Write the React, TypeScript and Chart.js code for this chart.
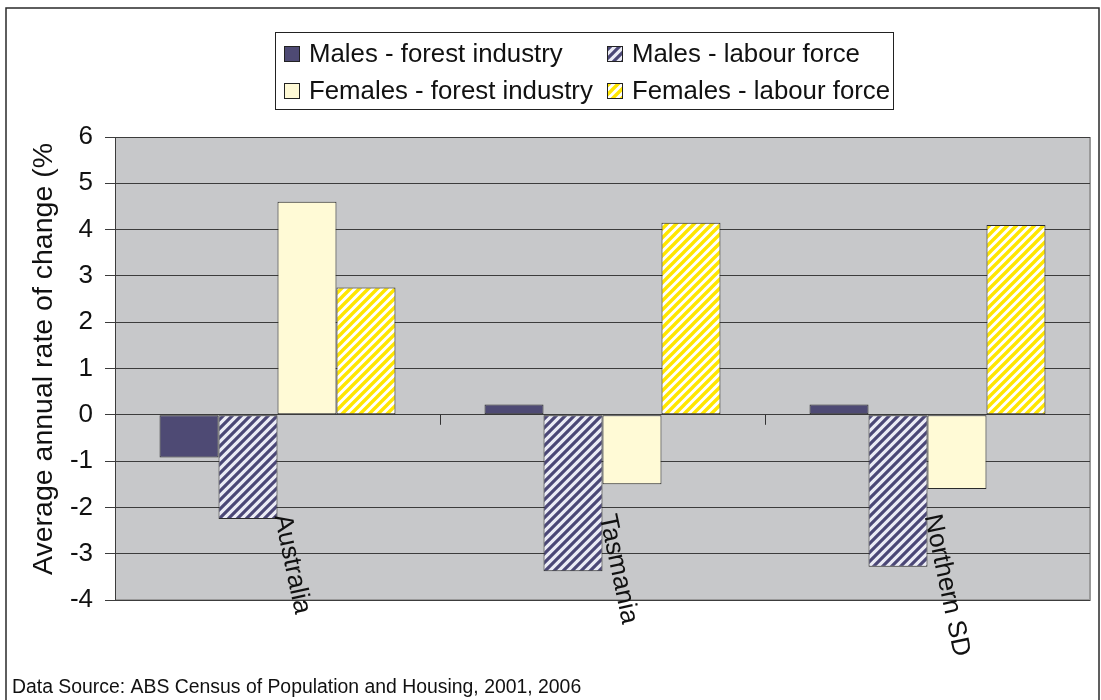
import React, { useEffect, useRef } from "react";
import { Chart, registerables } from "chart.js";

Chart.register(...registerables);

const categories = ["Australia", "Tasmania", "Northern SD"];
const malesForest = [-0.92, 0.22, 0.22];
const malesLabour = [-2.25, -3.38, -3.28];
const femalesForest = [4.6, -1.5, -1.6];
const femalesLabour = [2.75, 4.15, 4.1];
const seriesNames = [
  "Males - forest industry",
  "Males - labour force",
  "Females - forest industry",
  "Females - labour force",
];
const yTicks = { min: -4, max: 6, step: 1 };
const yTitle = "Average annual rate of change (%)";
const sourceText = "Data Source: ABS Census of Population and Housing, 2001, 2006";

const FONT = "'Liberation Sans', Arial, sans-serif";

function makeStripe(bg: string, fg: string, size: number, lw: number) {
  const c = document.createElement("canvas");
  c.width = size;
  c.height = size;
  const g = c.getContext("2d")!;
  g.fillStyle = bg;
  g.fillRect(0, 0, size, size);
  g.strokeStyle = fg;
  g.lineWidth = lw;
  g.lineCap = "square";
  g.beginPath();
  g.moveTo(-size, 2 * size);
  g.lineTo(2 * size, -size);
  g.moveTo(-size, size);
  g.lineTo(size, -size);
  g.moveTo(0, 2 * size);
  g.lineTo(2 * size, 0);
  g.stroke();
  return g.createPattern(c, "repeat")!;
}

export default function App() {
  const ref = useRef<HTMLCanvasElement>(null);
  useEffect(() => {
    const canvas = ref.current!;
    const malePat = makeStripe("#ececf6", "#4b4776", 9, 3.2);
    const femPat = makeStripe("#ffffff", "#ffe600", 9, 3.4);
    const fills = ["#4e4a74", malePat, "#fffad6", femPat];

    const decor = {
      id: "decor",
      beforeDraw(chart: any) {
        const { ctx, chartArea: a } = chart;
        ctx.save();
        ctx.fillStyle = "#ffffff";
        ctx.fillRect(0, 0, chart.width, chart.height);
        ctx.fillStyle = "#c7c8ca";
        ctx.fillRect(a.left, a.top, a.right - a.left, a.bottom - a.top);
        ctx.strokeStyle = "#9a9a9a";
        ctx.lineWidth = 2;
        ctx.beginPath();
        ctx.moveTo(a.right, a.top);
        ctx.lineTo(a.right, a.bottom);
        ctx.lineTo(a.left, a.bottom);
        ctx.stroke();
        ctx.restore();
      },
      afterDraw(chart: any) {
        const { ctx, chartArea: a, scales } = chart;
        const x = scales.x;
        const y = scales.y;
        const zy = y.getPixelForValue(0);
        ctx.save();
        // zero line tick marks at category boundaries
        ctx.strokeStyle = "#333";
        ctx.lineWidth = 1;
        const n = categories.length;
        const w = (a.right - a.left) / n;
        for (let i = 1; i < n; i++) {
          const bx = Math.round(a.left + w * i) + 0.5;
          ctx.beginPath();
          ctx.moveTo(bx, zy);
          ctx.lineTo(bx, zy + 10);
          ctx.stroke();
        }
        // category labels
        ctx.fillStyle = "#111";
        ctx.font = `26px ${FONT}`;
        ctx.textAlign = "left";
        ctx.textBaseline = "middle";
        categories.forEach((c, i) => {
          const cx = x.getPixelForValue(i);
          ctx.save();
          ctx.translate(cx + 4, zy + 100);
          ctx.rotate((78 * Math.PI) / 180);
          ctx.fillText(c, 0, 0);
          ctx.restore();
        });
        // y title (clipped at top like the original)
        ctx.save();
        ctx.beginPath();
        ctx.rect(0, 144, 110, 500);
        ctx.clip();
        ctx.translate(44, 575);
        ctx.rotate(-Math.PI / 2);
        ctx.font = `28.5px ${FONT}`;
        ctx.textAlign = "left";
        ctx.textBaseline = "middle";
        ctx.fillText(yTitle, 0, 0);
        ctx.restore();
        // source
        ctx.font = `19.4px ${FONT}`;
        ctx.textBaseline = "alphabetic";
        ctx.fillText(sourceText, 12, 693);
        // legend
        ctx.fillStyle = "#fff";
        ctx.fillRect(275, 32, 618, 77);
        ctx.strokeStyle = "#222";
        ctx.lineWidth = 1;
        ctx.strokeRect(275.5, 32.5, 618, 77);
        const pos = [
          [284, 54],
          [607, 54],
          [284, 91],
          [607, 91],
        ];
        ctx.font = `25.8px ${FONT}`;
        ctx.textBaseline = "middle";
        seriesNames.forEach((s, i) => {
          const [lx, ly] = pos[i];
          ctx.fillStyle = fills[i] as any;
          ctx.fillRect(lx, ly - 8, 16, 16);
          ctx.strokeStyle = "#222";
          ctx.strokeRect(lx + 0.5, ly - 7.5, 15, 15);
          ctx.fillStyle = "#111";
          ctx.fillText(s, lx + 25, ly + 1);
        });
        // outer frame
        ctx.strokeStyle = "#2a2a2a";
        ctx.lineWidth = 1.5;
        ctx.strokeRect(6, 8, 1093, 700);
        ctx.restore();
      },
    };

    const data = [malesForest, malesLabour, femalesForest, femalesLabour];
    const chart = new Chart(canvas, {
      type: "bar",
      data: {
        labels: categories,
        datasets: seriesNames.map((name, i) => ({
          label: name,
          data: data[i],
          backgroundColor: fills[i] as any,
          borderColor: "#2a2a2a",
          borderWidth: 1,
          borderSkipped: false,
          barPercentage: 1,
          categoryPercentage: 0.726,
        })),
      },
      options: {
        responsive: false,
        animation: false,
        devicePixelRatio: 1,
        layout: { padding: { left: 0, top: 137, right: 11, bottom: 100 } },
        plugins: { legend: { display: false }, title: { display: false }, tooltip: { enabled: false } },
        scales: {
          x: { display: false },
          y: {
            min: yTicks.min,
            max: yTicks.max,
            afterFit(scale: any) {
              scale.width = 115;
            },
            ticks: {
              stepSize: yTicks.step,
              color: "#111",
              font: { family: FONT, size: 26 },
              padding: 12,
            },
            grid: { color: "#3c3c3c", lineWidth: 1, tickLength: 10 },
            border: { display: true, color: "#3c3c3c", width: 1 },
          },
        },
      },
      plugins: [decor],
    });
    return () => chart.destroy();
  }, []);
  return (
    <div style={{ position: "fixed", left: 0, top: 0, width: 1101, height: 700, background: "#fff" }}>
      <canvas ref={ref} width={1101} height={700} style={{ display: "block" }} />
    </div>
  );
}
